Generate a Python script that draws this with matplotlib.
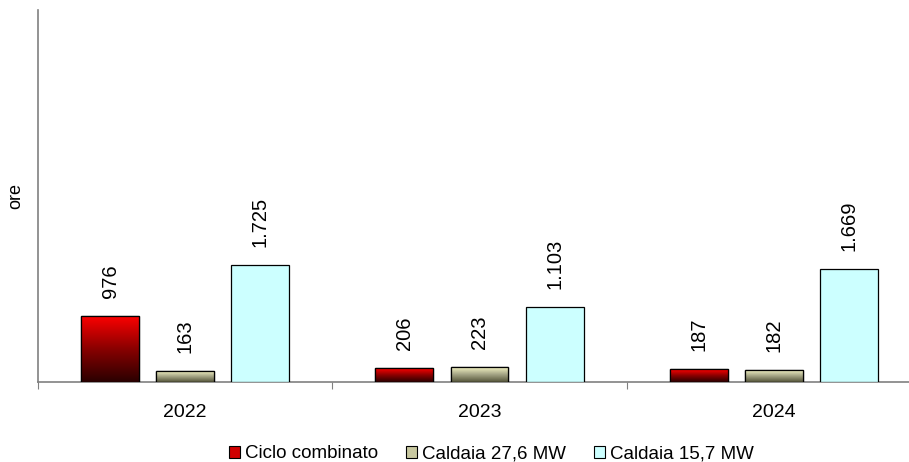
import numpy as np
import matplotlib
matplotlib.use("Agg")
import matplotlib.pyplot as plt
from matplotlib.patches import Patch
from matplotlib.colors import LinearSegmentedColormap

plt.rcParams["font.family"] = ["Liberation Sans", "DejaVu Sans"]

# data
years = ["2022", "2023", "2024"]
series_names = ["Ciclo combinato", "Caldaia 27,6 MW", "Caldaia 15,7 MW"]
ciclo = [976, 206, 187]
caldaia_27 = [163, 223, 182]
caldaia_15 = [1725, 1103, 1669]
y_label = "ore"

# gradient (bottom -> top) for each series, None = flat fill
gradients = [
    ["#2a0000", "#8a0000", "#ff0000"],
    ["#55553a", "#a8a888", "#ffffcc"],
    None,
]
flat_colors = ["#d00000", "#c8c8a0", "#ccffff"]

fig = plt.figure(figsize=(9.09, 4.62), dpi=100)
ax = fig.add_axes([38 / 909, 80 / 462, 883 / 909, 372 / 462])

x = np.arange(len(years)) + 0.5
width = 0.197
step = 0.255
all_series = [ciclo, caldaia_27, caldaia_15]

for i, vals in enumerate(all_series):
    xs = x + (i - 1) * step
    bars = ax.bar(xs, vals, width=width, color=flat_colors[i],
                  edgecolor="black", linewidth=0.9, zorder=3)
    for b, v in zip(bars, vals):
        if gradients[i] is not None:
            cmap = LinearSegmentedColormap.from_list("g%d" % i, gradients[i])
            grad = np.linspace(0, 1, 256).reshape(-1, 1)
            bx = b.get_x()
            im = ax.imshow(grad, cmap=cmap, aspect="auto", origin="lower",
                           extent=[bx, bx + b.get_width(), 0, v], zorder=3.5)
            im.set_clip_path(b)
            # redraw edge on top
            ax.bar(b.get_x() + b.get_width() / 2, v, width=width, fill=False,
                   edgecolor="black", linewidth=0.9, zorder=4)
        label = f"{v:,}".replace(",", ".")
        ax.annotate(label, (b.get_x() + b.get_width() / 2, v),
                    xytext=(0, 13), textcoords="offset points",
                    rotation=90, ha="center", va="bottom", fontsize=14.5)

ax.set_xlim(0, 3)
ax.set_ylim(0, 5500)
ax.set_yticks([])
ax.set_xticks([0, 1, 2, 3])
ax.set_xticklabels([])
ax.tick_params(axis="x", which="major", length=5, color="#808080", direction="out")
ax.set_xticks(x, minor=True)
ax.set_xticklabels(years, minor=True, fontsize=14)
ax.tick_params(axis="x", which="minor", length=0, pad=16)

for s in ["top", "right"]:
    ax.spines[s].set_visible(False)
for s in ["left", "bottom"]:
    ax.spines[s].set_color("#808080")
    ax.spines[s].set_linewidth(1.2)

ax.set_ylabel(y_label, fontsize=13, labelpad=10)

handles = [Patch(facecolor=flat_colors[i], edgecolor="black", linewidth=0.8,
                 label=series_names[i]) for i in range(3)]
fig.legend(handles=handles, loc="center", ncol=3, frameon=False,
           fontsize=13.5, bbox_to_anchor=(0.541, 8 / 462),
           handlelength=0.55, handleheight=0.55, handletextpad=0.3,
           columnspacing=1.5, borderpad=0, borderaxespad=0)

fig.savefig("out.png", dpi=100)
